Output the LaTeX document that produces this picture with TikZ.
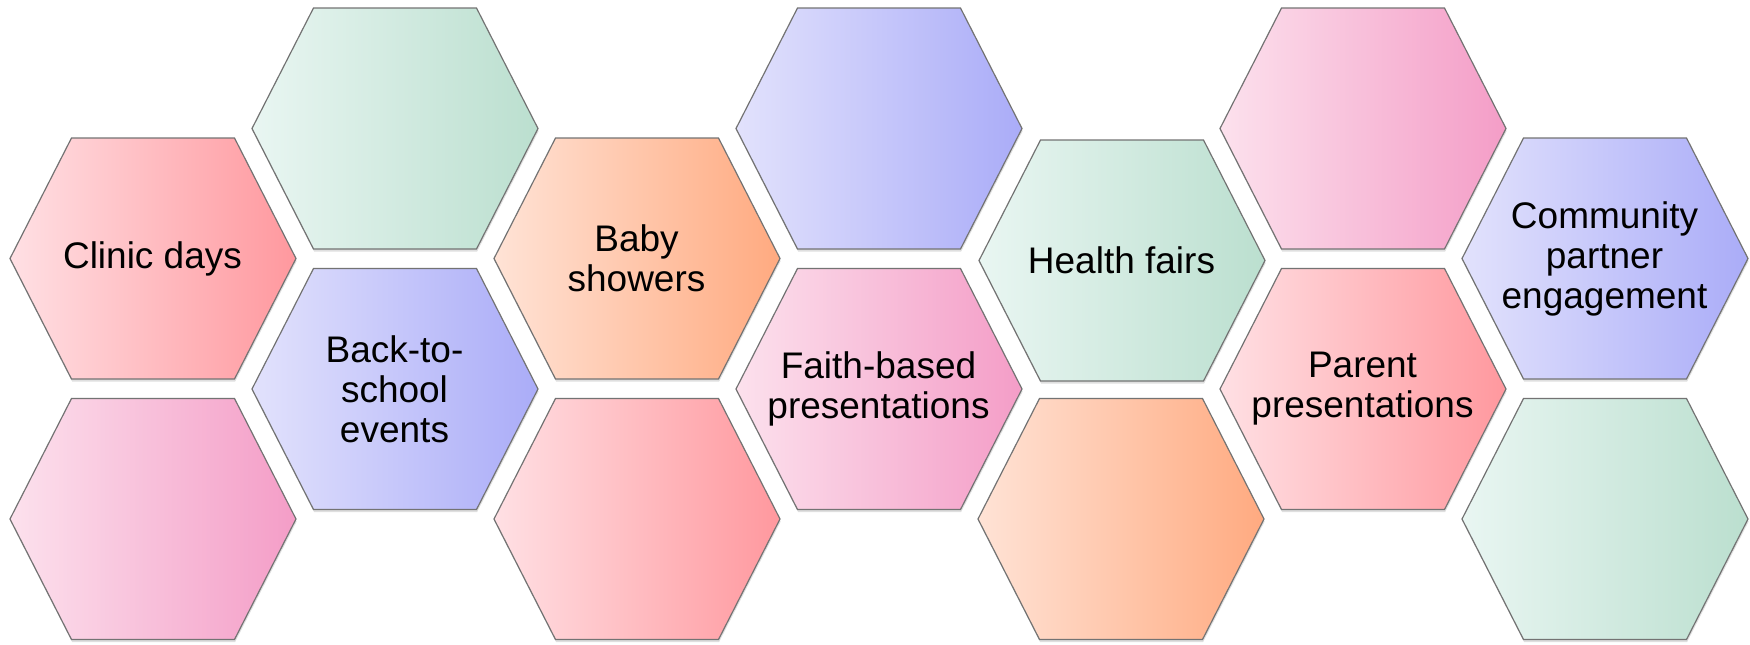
\documentclass[tikz,border=0pt]{standalone}
\usepackage{fontspec}
\setmainfont{Liberation Sans}
\usetikzlibrary{shadows}

\definecolor{redL}{RGB}{255,224,228}
\definecolor{redR}{RGB}{255,152,158}
\definecolor{greenL}{RGB}{233,246,242}
\definecolor{greenR}{RGB}{187,223,207}
\definecolor{purpleL}{RGB}{226,226,252}
\definecolor{purpleR}{RGB}{170,172,248}
\definecolor{orangeL}{RGB}{255,227,214}
\definecolor{orangeR}{RGB}{255,170,128}
\definecolor{pinkL}{RGB}{252,225,237}
\definecolor{pinkR}{RGB}{244,157,199}

\tikzset{
    hexcell/.style={draw=black!55, line width=0.6pt,
        drop shadow={shadow xshift=0.3pt, shadow yshift=-1.3pt, opacity=0.25}},
    redcell/.style={hexcell, left color=redL, right color=redR},
    greencell/.style={hexcell, left color=greenL, right color=greenR},
    purplecell/.style={hexcell, left color=purpleL, right color=purpleR},
    orangecell/.style={hexcell, left color=orangeL, right color=orangeR},
    pinkcell/.style={hexcell, left color=pinkL, right color=pinkR},
    hexlabel/.style={align=center, text=black, inner sep=0pt,
        font=\fontsize{18.5}{20}\selectfont}
}

% one hexagon round a named centre
\newcommand{\hexcell}[2]{\path[#2] (#1) ++(-142.5,0) -- ++(61.5,-120.5)
    -- ++(163,0) -- ++(61.5,120.5) -- ++(-61.5,120.5) -- ++(-163,0) -- cycle;}

\begin{document}
\begin{tikzpicture}[x=0.5pt, y=-0.5pt]
    \useasboundingbox (0,0) rectangle (1750,644);

    % centres, column by column
    \coordinate (h0a) at (152.5, 258.5);
    \coordinate (h0b) at (152.5, 519);
    \coordinate (h1a) at (394.5, 128.5);
    \coordinate (h1b) at (394.5, 389);
    \coordinate (h2a) at (636.5, 258.5);
    \coordinate (h2b) at (636.5, 519);
    \coordinate (h3a) at (878.5, 128.5);
    \coordinate (h3b) at (878.5, 389);
    \coordinate (h4a) at (1121.5, 260.5);
    \coordinate (h4b) at (1120.5, 519);
    \coordinate (h5a) at (1362.5, 128.5);
    \coordinate (h5b) at (1362.5, 389);
    \coordinate (h6a) at (1604.5, 258.5);
    \coordinate (h6b) at (1604.5, 519);

    \hexcell{h0a}{redcell}
    \hexcell{h0b}{pinkcell}
    \hexcell{h1a}{greencell}
    \hexcell{h1b}{purplecell}
    \hexcell{h2a}{orangecell}
    \hexcell{h2b}{redcell}
    \hexcell{h3a}{purplecell}
    \hexcell{h3b}{pinkcell}
    \hexcell{h4a}{greencell}
    \hexcell{h4b}{orangecell}
    \hexcell{h5a}{pinkcell}
    \hexcell{h5b}{redcell}
    \hexcell{h6a}{purplecell}
    \hexcell{h6b}{greencell}

    \node[hexlabel] (clinic) at (h0a) {Clinic days};
    \node[hexlabel] (school) at (h1b) {Back-to-\\school\\events};
    \node[hexlabel] (baby) at (h2a) {Baby\\showers};
    \node[hexlabel] (faith) at (h3b) {Faith-based\\presentations};
    \node[hexlabel] (fairs) at (h4a) {Health fairs};
    \node[hexlabel] (parent) at (h5b) {Parent\\presentations};
    \node[hexlabel] (partner) at (h6a) {Community\\partner\\engagement};
\end{tikzpicture}
\end{document}
